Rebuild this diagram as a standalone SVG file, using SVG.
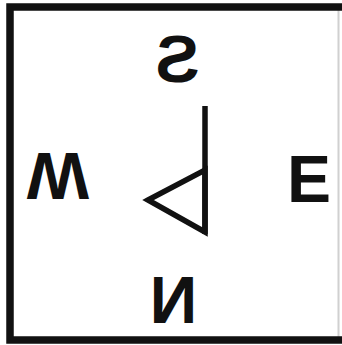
<svg xmlns="http://www.w3.org/2000/svg" width="342" height="345" viewBox="0 0 342 345">
<style>
.lbl{font-family:"Liberation Sans",Arial,sans-serif;font-weight:bold;font-size:66px;fill:#111;text-anchor:middle}
.ln{stroke:#111;fill:none}
</style>
<rect width="342" height="345" fill="#fff"/>
<g id="frame">
<line x1="338.5" y1="7" x2="338.5" y2="340" stroke="#d0d0d0" stroke-width="2"/>
<path class="ln" d="M345 7 H10 V340 H345" stroke-width="7.5"/>
</g>
<g id="label-S"><text class="lbl" transform="translate(177.5,82) scale(-1,1)">S</text></g>
<g id="label-W"><text class="lbl" transform="translate(58,153) scale(1,-1)">W</text></g>
<g id="label-E"><text class="lbl" x="309" y="202">E</text></g>
<g id="label-N"><text class="lbl" transform="translate(173.5,323) scale(-1,1)">N</text></g>
<g id="symbol">
<line class="ln" x1="205" y1="106" x2="205" y2="234" stroke-width="5.5"/>
<polygon class="ln" points="148,200 205,170 205,232" stroke-width="5.5" stroke-linejoin="miter"/>
</g>
</svg>
